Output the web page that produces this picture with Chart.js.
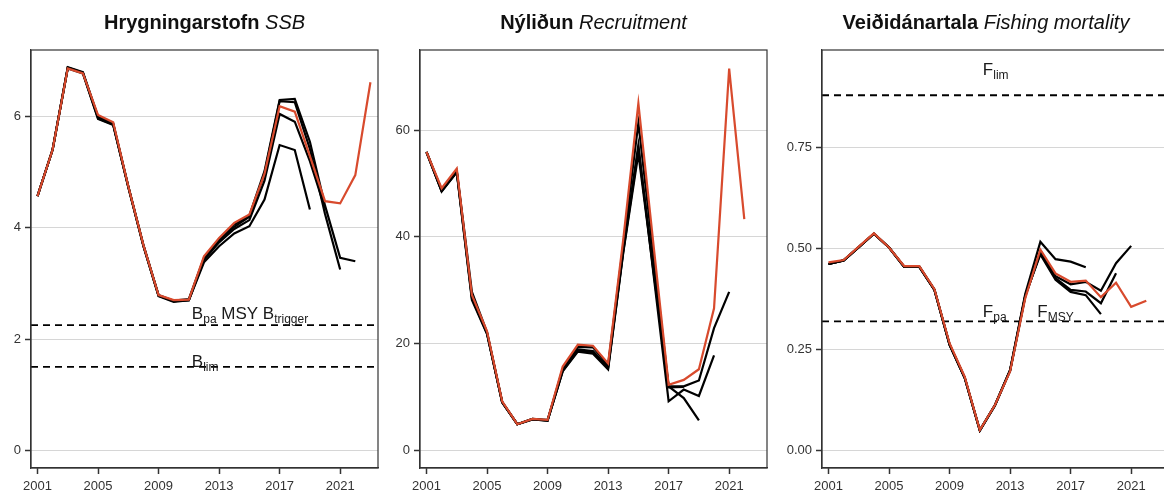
<!DOCTYPE html>
<html lang="is">
<head>
<meta charset="UTF-8">
<title>Stofnmat</title>
<style>
  html, body { margin: 0; padding: 0; background: #fff; overflow: hidden; width: 1164px; height: 493px; }
  .panel { position: absolute; top: 0; height: 493px; }
</style>
</head>
<body>
<div class="panel" style="left:0;width:385px"><canvas id="ssbChart" width="385" height="493"></canvas></div>
<div class="panel" style="left:385px;width:385px"><canvas id="recChart" width="385" height="493"></canvas></div>
<div class="panel" style="left:770px;width:400px"><canvas id="fChart" width="400" height="493"></canvas></div>
<script src="https://cdn.jsdelivr.net/npm/chart.js"></script>
<script>
// years start at 2001; every series runs from 2001 to its last year
const firstYear = 2001;
const xTicks = [2001, 2005, 2009, 2013, 2017, 2021];

// Hrygningarstofn (SSB)
const ssbLatest    = [4.57, 5.41, 6.87, 6.78, 6.03, 5.90, 4.75, 3.69, 2.79, 2.70, 2.71, 3.49, 3.82, 4.09, 4.24, 4.97, 6.19, 6.09, 5.29, 4.48, 4.44, 4.95, 6.62];
const ssbRetro2022 = [4.57, 5.41, 6.89, 6.80, 6.00, 5.88, 4.75, 3.69, 2.79, 2.69, 2.72, 3.46, 3.80, 4.06, 4.22, 5.02, 6.30, 6.32, 5.55, 4.40, 3.46, 3.40];
const ssbRetro2021 = [4.57, 5.41, 6.88, 6.79, 5.99, 5.87, 4.74, 3.68, 2.78, 2.68, 2.70, 3.44, 3.78, 4.02, 4.20, 4.98, 6.28, 6.26, 5.42, 4.25, 3.25];
const ssbRetro2020 = [4.57, 5.41, 6.88, 6.79, 5.97, 5.86, 4.74, 3.68, 2.78, 2.68, 2.70, 3.42, 3.74, 3.98, 4.14, 4.85, 6.05, 5.91, 5.20, 4.35];
const ssbRetro2019 = [4.57, 5.41, 6.87, 6.78, 5.96, 5.85, 4.73, 3.67, 2.77, 2.67, 2.70, 3.38, 3.67, 3.90, 4.03, 4.51, 5.49, 5.40, 4.33];
const ssbTicks = [0, 2, 4, 6];
const ssbRefs = [2.25, 1.5];

// Nýliðun (Recruitment)
const recLatest    = [55.9, 49.1, 52.8, 29.1, 22.3, 9.2, 4.9, 5.9, 5.7, 15.7, 19.8, 19.6, 16.3, 39.5, 65.0, 38.5, 12.3, 13.2, 15.2, 26.6, 71.5, 43.3];
const recRetro2021 = [55.9, 48.8, 52.4, 29.7, 22.1, 9.1, 4.9, 5.9, 5.7, 15.3, 19.4, 19.3, 16.0, 38.5, 61.3, 36.5, 12.0, 12.0, 13.1, 22.9, 29.7];
const recRetro2020 = [55.9, 48.6, 52.2, 28.8, 22.0, 9.0, 4.9, 5.9, 5.6, 15.0, 18.9, 18.6, 15.6, 37.5, 57.2, 33.0, 9.2, 11.4, 10.2, 17.8];
const recRetro2019 = [55.9, 48.5, 52.1, 28.2, 21.8, 9.0, 4.9, 5.8, 5.6, 14.8, 18.5, 18.1, 15.2, 37.0, 55.6, 33.5, 12.0, 9.8, 5.6];
const recRetro2018 = [55.8, 48.6, 52.2, 28.5, 21.9, 9.0, 4.9, 5.8, 5.6, 14.9, 18.7, 18.4, 15.4, 37.2, 56.5, 34.0, 11.8, 11.9];
const recTicks = [0, 20, 40, 60];

// Veiðidánartala (Fishing mortality)
const fLatest    = [0.466, 0.472, 0.505, 0.538, 0.503, 0.457, 0.457, 0.400, 0.266, 0.183, 0.051, 0.113, 0.196, 0.377, 0.498, 0.439, 0.418, 0.421, 0.380, 0.416, 0.356, 0.371];
const fRetro2021 = [0.462, 0.471, 0.504, 0.537, 0.503, 0.455, 0.455, 0.398, 0.263, 0.181, 0.050, 0.113, 0.198, 0.381, 0.492, 0.432, 0.412, 0.418, 0.396, 0.464, 0.507];
const fRetro2020 = [0.462, 0.471, 0.504, 0.537, 0.503, 0.455, 0.455, 0.398, 0.262, 0.180, 0.050, 0.112, 0.198, 0.383, 0.489, 0.427, 0.398, 0.394, 0.365, 0.439];
const fRetro2019 = [0.462, 0.471, 0.504, 0.537, 0.503, 0.455, 0.455, 0.398, 0.262, 0.180, 0.050, 0.112, 0.199, 0.384, 0.486, 0.423, 0.393, 0.385, 0.338];
const fRetro2018 = [0.462, 0.471, 0.504, 0.537, 0.503, 0.456, 0.456, 0.399, 0.263, 0.181, 0.051, 0.113, 0.200, 0.388, 0.517, 0.474, 0.468, 0.454];
const fTicks = [0, 0.25, 0.5, 0.75];
const fRefs = [0.88, 0.32];

const RED = '#d84a2d';
const FONT = '"Liberation Sans", Arial, Helvetica, sans-serif';
const X_MIN = 2000.57, X_MAX = 2023.5;

function toPoints(vals) {
    return vals.map((v, i) => ({ x: firstYear + i, y: v }));
}

function lineSet(vals, color) {
    return { data: toPoints(vals), borderColor: color, borderWidth: 2.2, pointRadius: 0, tension: 0, fill: false };
}

function refSet(v) {
    return {
        data: [{ x: X_MIN, y: v }, { x: X_MAX, y: v }],
        borderColor: '#000', borderWidth: 1.8, borderDash: [7, 5], pointRadius: 0, fill: false
    };
}

// box, title (bold + italic) and reference labels with subscripts
const decorations = {
    id: 'decorations',
    afterDraw(chart, args, opts) {
        const ctx = chart.ctx;
        const a = chart.chartArea;
        ctx.save();
        ctx.strokeStyle = '#333';
        ctx.lineWidth = 1.2;
        ctx.strokeRect(a.left, a.top, a.right - a.left, a.bottom - a.top);

        // title
        ctx.fillStyle = '#111';
        ctx.textBaseline = 'alphabetic';
        const boldFont = 'bold 20px ' + FONT;
        const italFont = 'italic 20px ' + FONT;
        ctx.font = boldFont;
        const w1 = ctx.measureText(opts.bold + ' ').width;
        ctx.font = italFont;
        const w2 = ctx.measureText(opts.italic).width;
        const cx = opts.titleX != null ? opts.titleX : (a.left + a.right) / 2;
        let x = cx - (w1 + w2) / 2;
        ctx.font = boldFont;
        ctx.fillText(opts.bold + ' ', x, 29);
        ctx.font = italFont;
        ctx.fillText(opts.italic, x + w1, 29);

        // reference labels
        const xs = chart.scales.x, ys = chart.scales.y;
        (opts.labels || []).forEach(lab => {
            let px = xs.getPixelForValue(lab.x);
            const py = ys.getPixelForValue(lab.y);
            ctx.fillStyle = '#1a1a1a';
            lab.parts.forEach(p => {
                ctx.font = '17px ' + FONT;
                ctx.fillText(p[0], px, py);
                px += ctx.measureText(p[0]).width;
                if (p[1]) {
                    ctx.font = '12px ' + FONT;
                    ctx.fillText(p[1], px, py + 4);
                    px += ctx.measureText(p[1]).width;
                }
            });
        });
        ctx.restore();
    }
};

function makePanel(id, cfg) {
    new Chart(document.getElementById(id), {
        type: 'line',
        data: { datasets: cfg.datasets },
        options: {
            responsive: false,
            animation: false,
            layout: { padding: { top: 50, right: cfg.padRight, left: 0, bottom: 0 } },
            plugins: {
                legend: { display: false },
                tooltip: { enabled: false },
                decorations: { bold: cfg.bold, italic: cfg.italic, titleX: cfg.titleX, labels: cfg.labels }
            },
            scales: {
                x: {
                    type: 'linear', min: X_MIN, max: X_MAX,
                    afterBuildTicks: s => { s.ticks = xTicks.map(v => ({ value: v })); },
                    afterFit: s => { s.height = 25; },
                    ticks: { callback: v => String(v), color: '#333', font: { family: FONT, size: 13 }, padding: 5, maxRotation: 0, autoSkip: false },
                    grid: { drawOnChartArea: false, tickLength: 6, tickColor: '#333', tickWidth: 1.5 },
                    border: { color: '#333', width: 1.2 }
                },
                y: {
                    type: 'linear', min: cfg.yMin, max: cfg.yMax,
                    afterBuildTicks: s => { s.ticks = cfg.yTicks.map(v => ({ value: v })); },
                    afterFit: s => { s.width = cfg.yWidth; },
                    ticks: { callback: cfg.yFormat, color: '#333', font: { family: FONT, size: 13 }, padding: 4 },
                    grid: { color: '#d6d6d6', lineWidth: 1, tickLength: 6, tickColor: '#333', tickWidth: 1.5 },
                    border: { color: '#333', width: 1.2 }
                }
            }
        },
        plugins: [decorations]
    });
}

makePanel('ssbChart', {
    bold: 'Hrygningarstofn', italic: 'SSB',
    yMin: -0.32, yMax: 7.2, yTicks: ssbTicks, yWidth: 31, padRight: 7,
    yFormat: v => String(v),
    labels: [
        { x: 2011.2, y: 2.36, parts: [['B', 'pa'], [' MSY B', 'trigger']] },
        { x: 2011.2, y: 1.5, parts: [['B', 'lim']] }
    ],
    datasets: [
        lineSet(ssbLatest, RED),
        lineSet(ssbRetro2022, '#000'),
        lineSet(ssbRetro2021, '#000'),
        lineSet(ssbRetro2020, '#000'),
        lineSet(ssbRetro2019, '#000'),
        ...ssbRefs.map(refSet)
    ]
});

makePanel('recChart', {
    bold: 'Nýliðun', italic: 'Recruitment',
    yMin: -3.3, yMax: 75, yTicks: recTicks, yWidth: 35, padRight: 3,
    yFormat: v => String(v),
    labels: [],
    datasets: [
        lineSet(recLatest, RED),
        lineSet(recRetro2021, '#000'),
        lineSet(recRetro2020, '#000'),
        lineSet(recRetro2019, '#000'),
        lineSet(recRetro2018, '#000')
    ]
});

makePanel('fChart', {
    bold: 'Veiðidánartala', italic: 'Fishing mortality',
    yMin: -0.043, yMax: 0.992, yTicks: fTicks, yWidth: 52, padRight: 1, titleX: 216,
    yFormat: v => v.toFixed(2),
    labels: [
        { x: 2011.2, y: 0.930, parts: [['F', 'lim']] },
        { x: 2011.2, y: 0.332, parts: [['F', 'pa']] },
        { x: 2014.8, y: 0.332, parts: [['F', 'MSY']] }
    ],
    datasets: [
        lineSet(fLatest, RED),
        lineSet(fRetro2021, '#000'),
        lineSet(fRetro2020, '#000'),
        lineSet(fRetro2019, '#000'),
        lineSet(fRetro2018, '#000'),
        ...fRefs.map(refSet)
    ]
});
</script>
</body>
</html>
